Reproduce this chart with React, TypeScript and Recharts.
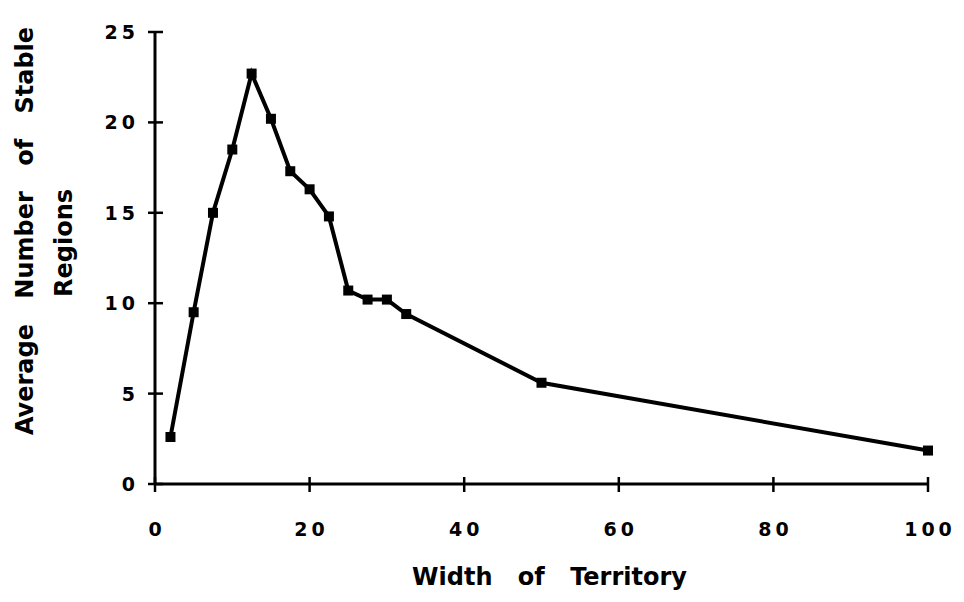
import React from "react";
import { LineChart, Line, XAxis, YAxis, Label } from "recharts";

const widths = [2, 5, 7.5, 10, 12.5, 15, 17.5, 20, 22.5, 25, 27.5, 30, 32.5, 50, 100];
const stableRegions = [2.6, 9.5, 15, 18.5, 22.7, 20.2, 17.3, 16.3, 14.8, 10.7, 10.2, 10.2, 9.4, 5.6, 1.85];
const xTicks = [0, 20, 40, 60, 80, 100];
const yTicks = [0, 5, 10, 15, 20, 25];

const data = widths.map((w, i) => ({ width: w, regions: stableRegions[i] }));

const FONT = "'DejaVu Sans', Verdana, sans-serif";
const TICK_LS = 4;

const SquareDot = (props: any) => {
  const { cx, cy } = props;
  if (cx == null || cy == null) return null;
  return <rect x={cx - 5} y={cy - 5} width={10} height={10} fill="#000" />;
};

const XTick = (props: any) => {
  const { x, y, payload } = props;
  return (
    <g>
      <line x1={x} y1={y - 7} x2={x} y2={y + 8} stroke="#000" strokeWidth={2.5} />
      <text
        x={x + TICK_LS / 2}
        y={y + 52}
        textAnchor="middle"
        fontFamily={FONT}
        fontWeight="bold"
        fontSize={19}
        letterSpacing={TICK_LS}
        fill="#000"
      >
        {payload.value}
      </text>
    </g>
  );
};

const YTick = (props: any) => {
  const { x, y, payload } = props;
  return (
    <g>
      <line x1={x - 7} y1={y} x2={x + 8} y2={y} stroke="#000" strokeWidth={2.5} />
      <text
        x={x - 20 + TICK_LS}
        y={y + 7}
        textAnchor="end"
        fontFamily={FONT}
        fontWeight="bold"
        fontSize={19}
        letterSpacing={TICK_LS}
        fill="#000"
      >
        {payload.value}
      </text>
    </g>
  );
};

export default function App() {
  return (
    <div style={{ position: "absolute", left: 0, top: 0, background: "#fff" }}>
      <LineChart
        width={964}
        height={602}
        data={data}
        margin={{ top: 32, right: 36, bottom: 58, left: 100 }}
      >
        <XAxis
          dataKey="width"
          type="number"
          domain={[0, 100]}
          ticks={xTicks}
          height={60}
          tickSize={0}
          tickMargin={0}
          tickLine={false}
          axisLine={{ stroke: "#000", strokeWidth: 3 }}
          tick={<XTick />}
          interval={0}
        >
          <Label
            content={(p: any) => {
              const vb = p.viewBox;
              return (
                <text
                  x={vb.x + vb.width / 2 + 8}
                  y={585}
                  textAnchor="middle"
                  fontFamily={FONT}
                  fontWeight="bold"
                  fontSize={24}
                  wordSpacing={17}
                  fill="#000"
                >
                  Width of Territory
                </text>
              );
            }}
          />
        </XAxis>
        <YAxis
          type="number"
          domain={[0, 25]}
          ticks={yTicks}
          width={55}
          tickSize={0}
          tickMargin={0}
          tickLine={false}
          axisLine={{ stroke: "#000", strokeWidth: 3 }}
          tick={<YTick />}
          interval={0}
        >
          <Label
            content={() => (
              <g fontFamily={FONT} fontWeight="bold" fontSize={24} fill="#000">
                <text x={33} y={231} textAnchor="middle" transform="rotate(-90 33 231)" wordSpacing={17}>
                  Average Number of Stable
                </text>
                <text x={72} y={243} textAnchor="middle" transform="rotate(-90 72 243)">
                  Regions
                </text>
              </g>
            )}
          />
        </YAxis>
        <Line
          type="linear"
          dataKey="regions"
          stroke="#000"
          strokeWidth={4}
          dot={<SquareDot />}
          activeDot={false}
          isAnimationActive={false}
        />
      </LineChart>
    </div>
  );
}
